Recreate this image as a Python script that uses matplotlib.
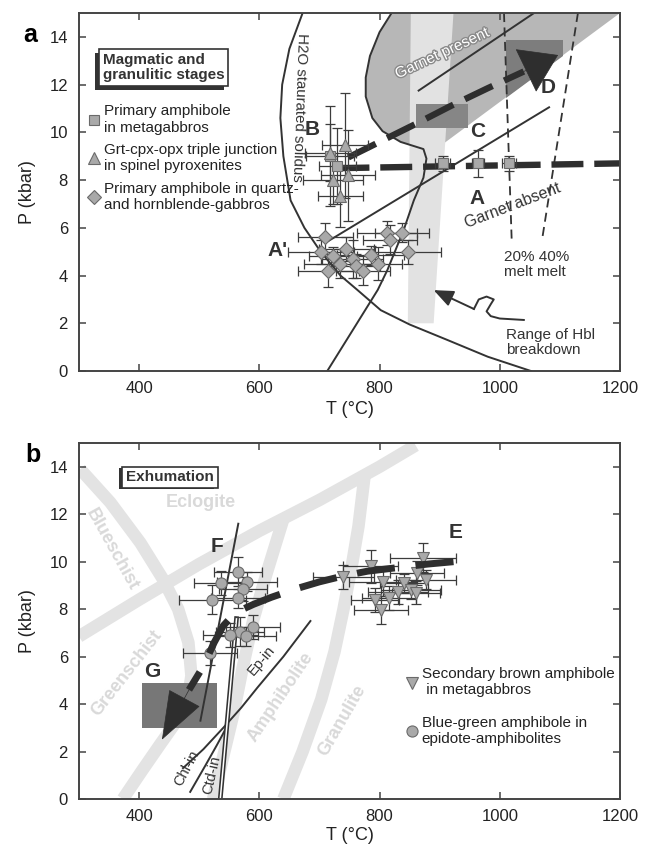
import numpy as np
import matplotlib
matplotlib.use("Agg")
import matplotlib.pyplot as plt
import matplotlib.patheffects as pe
from matplotlib.patches import Rectangle
from matplotlib.lines import Line2D

plt.rcParams['font.family'] = ['Liberation Sans', 'DejaVu Sans']

DARK = '#333333'
MFILL = '#a9a9a9'
MEDGE = '#6a6a6a'
EBAR = '#3c3c3c'
FACIES = '#d9d9d9'

# ---------------- panel a : magmatic and granulitic stages ----------------
sq_T = [718, 730, 905, 963, 1015]
sq_P = [9.0, 8.6, 8.7, 8.7, 8.7]
sq_Terr = [40, 30, 12, 10, 12]
sq_Perr = [2.1, 1.6, 0.3, 0.55, 0.3]

tri_T = [718, 743, 722, 747, 735]
tri_P = [9.15, 9.45, 8.0, 8.2, 7.35]
tri_Terr = [42, 38, 50, 45, 38]
tri_Perr = [1.2, 2.2, 1.0, 1.9, 1.3]

dia_T = [710, 702, 715, 723, 735, 745, 755, 760, 773, 785, 798, 813, 818, 838, 847]
dia_P = [5.6, 5.0, 4.2, 4.8, 4.5, 5.1, 4.7, 4.4, 4.2, 4.85, 4.5, 5.8, 5.5, 5.8, 5.0]
dia_Terr = [45, 55, 50, 40, 60, 45, 50, 40, 45, 55, 40, 50, 45, 45, 55]
dia_Perr = [0.6, 0.5, 0.7, 0.4, 0.6, 0.5, 0.8, 0.5, 0.6, 0.4, 0.7, 0.5, 0.6, 0.4, 0.5]

# H2O saturated solidus
sol_T = [672, 650, 638, 635, 640, 652, 675, 702, 735, 763, 802, 850, 913, 980, 1052]
sol_P = [15.0, 13.5, 12.0, 10.6, 9.0, 7.15, 6.0, 5.0, 4.0, 3.4, 2.55, 1.95, 1.3, 0.6, 0.0]
# garnet-in curve (S shaped)
gin_T = [713, 760, 797, 813, 840, 857, 873, 878, 873, 835, 805, 788, 777, 777, 784, 800, 820]
gin_P = [0.0, 1.9, 3.4, 4.23, 5.9, 7.15, 8.1, 8.9, 9.3, 9.6, 10.05, 10.6, 11.5, 12.3, 13.2, 14.2, 15.0]
# garnet-present field
grt_T = [873, 835, 805, 788, 777, 777, 784, 800, 820, 1200, 907]
grt_P = [9.3, 9.6, 10.05, 10.6, 11.5, 12.3, 13.2, 14.2, 15.0, 15.0, 9.54]
# range of Hbl breakdown
hbl_T = [852, 923, 890, 847]
hbl_P = [15.0, 15.0, 2.0, 2.0]
boxC_T = [860, 947, 947, 860]
boxC_P = [10.2, 10.2, 11.2, 11.2]
boxD_T = [1010, 1010, 1105, 1105]
boxD_P = [11.45, 13.85, 13.85, 13.2]
line1_T = [865, 1057]
line1_P = [11.75, 15.0]
line2_T = [715, 1082]
line2_P = [5.45, 11.05]
melt20_T = [1007, 1020]
melt20_P = [15.0, 5.35]
melt40_T = [1130, 1070]
melt40_P = [15.0, 5.45]
pathA_T = [730, 1200]
pathA_P = [8.5, 8.7]
pathB_T = [748, 800, 860, 918, 980, 1040]
pathB_P = [8.95, 9.6, 10.35, 11.1, 11.85, 12.55]
squig_T = [1040, 1000, 985, 978, 985, 990, 978, 965, 957]
squig_P = [2.14, 2.2, 2.3, 2.5, 2.8, 3.0, 3.12, 3.0, 2.6]

# ---------------- panel b : exhumation ----------------
circ_T = [565, 537, 580, 573, 522, 565, 590, 568, 577, 552, 518]
circ_P = [9.58, 9.1, 9.15, 8.85, 8.4, 8.45, 7.25, 7.05, 6.85, 6.9, 6.15]
circ_Terr = [40, 45, 50, 40, 55, 45, 45, 40, 50, 45, 45]
circ_Perr = [0.6, 0.5, 0.4, 0.5, 0.6, 0.4, 0.5, 0.6, 0.4, 0.5, 0.5]

dtri_T = [740, 785, 805, 793, 802, 830, 840, 863, 872, 877, 815, 852, 860]
dtri_P = [9.37, 9.8, 9.15, 8.4, 7.97, 8.73, 9.1, 9.53, 10.17, 9.24, 8.48, 8.82, 8.7]
dtri_Terr = [50, 45, 55, 40, 45, 50, 40, 45, 55, 50, 45, 50, 40]
dtri_Perr = [0.5, 0.7, 0.6, 0.5, 0.6, 0.5, 0.4, 0.5, 0.6, 0.4, 0.5, 0.4, 0.5]

# facies boundaries
ecl_T = [300, 400, 500, 600, 700, 800, 860]
ecl_P = [6.85, 8.4, 9.9, 11.3, 12.6, 14.0, 14.9]
gsb_T = [302, 352, 402, 440, 465, 482, 487, 480, 460, 435, 405, 373]
gsb_P = [13.9, 12.5, 10.8, 9.25, 8.0, 6.6, 5.2, 4.0, 3.2, 2.3, 1.2, 0.0]
amp_T = [640, 612, 590, 572, 557, 540, 523]
amp_P = [11.8, 9.5, 7.55, 5.5, 3.6, 1.8, 0.0]
gra_T = [775, 765, 755, 740, 725, 703, 672, 640]
gra_P = [13.6, 11.5, 10.0, 8.0, 6.2, 4.2, 2.0, 0.0]
epin_T = [473, 507, 540, 570, 597, 640, 685]
epin_P = [1.3, 2.1, 3.0, 3.85, 4.7, 6.0, 7.5]
chlin_T = [485, 510, 530, 545]
chlin_P = [0.3, 1.4, 2.3, 3.0]
ctdin_T = [562, 535]
ctdin_P = [7.6, 0.0]
react_T = [565, 502]
react_P = [11.6, 3.3]
pathE_T = [923, 880, 830, 780, 740, 700, 660, 620, 590, 560, 540, 525, 507, 483]
pathE_P = [10.0, 9.9, 9.75, 9.6, 9.4, 9.15, 8.85, 8.5, 8.2, 7.85, 7.3, 6.6, 5.6, 4.6]

fig = plt.figure(figsize=(6.48, 8.51), dpi=100)
axA = fig.add_axes([0.1219, 0.564, 0.8349, 0.4207])
axB = fig.add_axes([0.1219, 0.0611, 0.8349, 0.4183])


def frame(ax, xl):
    ax.set_xlim(300, 1200)
    ax.set_ylim(0, 15)
    ax.set_xticks([400, 600, 800, 1000, 1200])
    ax.set_yticks(range(0, 15, 2))
    ax.tick_params(direction='in', top=True, right=True, length=5, width=1.1,
                   color='#444444', labelsize=12, labelcolor='#222222')
    ax.tick_params(axis='x', pad=7)
    ax.tick_params(axis='y', pad=8)
    for s in ax.spines.values():
        s.set_color('#444444')
        s.set_linewidth(1.4)
        s.set_zorder(10)
    ax.set_xlabel('T (°C)', fontsize=13, color='#222222')
    ax.set_ylabel('P (kbar)', fontsize=13, color='#222222')
    ax.xaxis.set_label_coords(0.5, xl)
    ax.yaxis.set_label_coords(-0.08, 0.5)


def points(ax, T, P, Te, Pe, marker, ms):
    ax.errorbar(T, P, xerr=Te, yerr=Pe, fmt='none', ecolor=EBAR, elinewidth=0.9,
                capsize=3.5, capthick=0.9, zorder=5)
    ax.plot(T, P, ls='none', marker=marker, ms=ms, mfc=MFILL, mec=MEDGE, mew=0.8, zorder=6)


def boxed(ax, x, y, s, off):
    t = ax.text(x, y, s, fontsize=11, fontweight='bold', color=DARK, ha='left', va='center',
                linespacing=1.15, zorder=9,
                bbox=dict(boxstyle='square,pad=0.25', fc='white', ec=DARK, lw=1.2))
    t.get_bbox_patch().set_path_effects([pe.SimplePatchShadow(offset=off, shadow_rgbFace=DARK, alpha=1),
                                         pe.Normal()])


# ---------------- panel a ----------------
ax = axA
frame(ax, -0.085)
ax.fill(grt_T, grt_P, color='#b7b7b7', lw=0, zorder=1)
ax.fill(hbl_T, hbl_P, color='#e2e2e2', lw=0, zorder=1.5)
ax.fill(boxC_T, boxC_P, color='#868686', lw=0, zorder=2)
ax.fill(boxD_T, boxD_P, color='#7d7d7d', lw=0, zorder=2)
for T, P in [(sol_T, sol_P), (gin_T, gin_P), (line1_T, line1_P), (line2_T, line2_P)]:
    ax.plot(T, P, color=DARK, lw=1.4, zorder=3)
for T, P in [(melt20_T, melt20_P), (melt40_T, melt40_P)]:
    ax.plot(T, P, color=DARK, lw=1.3, dashes=(5, 3), zorder=3)

ax.plot(pathA_T, pathA_P, color='#2e2e2e', lw=4.6, dashes=(5, 1.7), zorder=4)
ax.plot(pathB_T, pathB_P, color='#2e2e2e', lw=4.6, dashes=(4.8, 2), zorder=4)
ax.annotate('', xy=(1097, 13.24), xytext=(pathB_T[-1], pathB_P[-1]), zorder=4,
            arrowprops=dict(arrowstyle='-|>,head_length=2.5,head_width=1.65', mutation_scale=10,
                            color='#2e2e2e', lw=0.5, shrinkA=0, shrinkB=0))

points(ax, sq_T, sq_P, sq_Terr, sq_Perr, 's', 7)
points(ax, tri_T, tri_P, tri_Terr, tri_Perr, '^', 8.5)
points(ax, dia_T, dia_P, dia_Terr, dia_Perr, 'D', 7.5)

# Hbl breakdown squiggle arrow
ax.plot(squig_T, squig_P, color=DARK, lw=1.4, zorder=3)
ax.annotate('', xy=(890, 3.39), xytext=(squig_T[-1], squig_P[-1]), zorder=3,
            arrowprops=dict(arrowstyle='-|>,head_length=1.2,head_width=0.5', mutation_scale=10,
                            color=DARK, lw=1.4, shrinkA=0, shrinkB=0))

for s, T, P in [('B', 688, 10.1), ('C', 963, 10.03), ('A', 963, 7.23), ('D', 1080, 11.9), ("A'", 630, 5.07)]:
    ax.text(T, P, s, fontsize=15, fontweight='bold', color=DARK, ha='center', va='center', zorder=8)

ax.text(667, 11.06, 'H2O staurated solidus', fontsize=10.8, color=DARK, rotation=-92,
        rotation_mode='anchor', ha='center', va='center', zorder=8)
ax.text(904, 13.3, 'Garnet present', fontsize=11, color='white', rotation=25,
        rotation_mode='anchor', ha='center', va='center', zorder=8,
        path_effects=[pe.withStroke(linewidth=2, foreground='#8a8a8a')])
ax.text(1021, 6.95, 'Garnet absent', fontsize=11.5, color=DARK, rotation=21,
        rotation_mode='anchor', ha='center', va='center', zorder=8)
ax.text(1007, 4.45, '20% 40%\nmelt melt', fontsize=11, color=DARK, ha='left', va='center',
        linespacing=1.1, zorder=8)
ax.text(1010, 1.2, 'Range of Hbl\nbreakdown', fontsize=11, color=DARK, ha='left', va='center',
        linespacing=1.15, zorder=8)
boxed(ax, 340, 12.72, 'Magmatic and\ngranulitic stages', (-3, -3))

hA = [Line2D([], [], ls='none', marker='s', ms=7, mfc=MFILL, mec=MEDGE, mew=0.8),
      Line2D([], [], ls='none', marker='^', ms=8.5, mfc=MFILL, mec=MEDGE, mew=0.8),
      Line2D([], [], ls='none', marker='D', ms=7.5, mfc=MFILL, mec=MEDGE, mew=0.8)]
lA = ['Primary amphibole\nin metagabbros',
      'Grt-cpx-opx triple junction\nin spinel pyroxenites',
      'Primary amphibole in quartz-\nand hornblende-gabbros']
leg = ax.legend(hA, lA, loc='upper left', bbox_to_anchor=(0.018, 0.745), frameon=False,
                fontsize=11, handlelength=0.7, handletextpad=0.3, labelspacing=0.55,
                borderpad=0, borderaxespad=0)
for t in leg.get_texts():
    t.set_color('#222222')
leg.set_zorder(9)

# ---------------- panel b ----------------
ax = axB
frame(ax, -0.078)
for T, P in [(ecl_T, ecl_P), (gsb_T, gsb_P), (amp_T, amp_P), (gra_T, gra_P)]:
    ax.plot(T, P, color='#e3e3e3', lw=9, solid_capstyle='butt', zorder=1)
for s, T, P, r in [('Eclogite', 502, 12.5, 0), ('Blueschist', 355, 10.5, -61),
                   ('Greenschist', 380, 5.3, 52), ('Amphibolite', 635, 4.3, 56),
                   ('Granulite', 738, 3.3, 60)]:
    ax.text(T, P, s, fontsize=13, fontweight='bold', color=FACIES, rotation=r,
            rotation_mode='anchor', ha='center', va='center', zorder=1.5)

ax.add_patch(Rectangle((405, 3.0), 125, 1.9, color='#777777', lw=0, zorder=2))
for T, P in [(epin_T, epin_P), (chlin_T, chlin_P), (react_T, react_P)]:
    ax.plot(T, P, color=DARK, lw=1.4, zorder=3)
ax.plot(ctdin_T, ctdin_P, color=DARK, lw=3.4, zorder=3)
ax.plot(ctdin_T, ctdin_P, color='white', lw=1.1, zorder=3)

ax.text(604, 5.85, 'Ep-in', fontsize=10.5, color=DARK, rotation=50, rotation_mode='anchor',
        ha='center', va='center', zorder=8)
ax.text(480, 1.3, 'Chl-in', fontsize=10.5, color=DARK, rotation=62, rotation_mode='anchor',
        ha='center', va='center', zorder=8)
ax.text(521, 1.0, 'Ctd-in', fontsize=10.5, color=DARK, rotation=77, rotation_mode='anchor',
        ha='center', va='center', zorder=8)

points(ax, circ_T, circ_P, circ_Terr, circ_Perr, 'o', 8)
points(ax, dtri_T, dtri_P, dtri_Terr, dtri_Perr, 'v', 8)

ax.plot(pathE_T, pathE_P, color='#2e2e2e', lw=5, dashes=(5.5, 3), zorder=7)
ax.annotate('', xy=(438, 2.5), xytext=(pathE_T[-1], pathE_P[-1]), zorder=7,
            arrowprops=dict(arrowstyle='-|>,head_length=3.3,head_width=1.2', mutation_scale=10,
                            color='#2e2e2e', lw=0.5, shrinkA=0, shrinkB=0))

for s, T, P in [('E', 927, 11.22), ('F', 530, 10.63), ('G', 422, 5.36)]:
    ax.text(T, P, s, fontsize=15, fontweight='bold', color=DARK, ha='center', va='center', zorder=8)

boxed(ax, 378, 13.55, 'Exhumation', (-2.5, -0.8))

hB = [Line2D([], [], ls='none', marker='v', ms=8, mfc=MFILL, mec=MEDGE, mew=0.8),
      Line2D([], [], ls='none', marker='o', ms=8, mfc=MFILL, mec=MEDGE, mew=0.8)]
lB = ['Secondary brown amphibole\n in metagabbros',
      'Blue-green amphibole in\nepidote-amphibolites']
leg = ax.legend(hB, lB, loc='upper left', bbox_to_anchor=(0.605, 0.37), frameon=False,
                fontsize=11, handlelength=0.7, handletextpad=0.3, labelspacing=1.2,
                borderpad=0, borderaxespad=0)
for t in leg.get_texts():
    t.set_color('#222222')

fig.text(0.046, 0.959, 'a', fontsize=18, fontweight='bold', ha='center', va='center')
fig.text(0.051, 0.465, 'b', fontsize=18, fontweight='bold', ha='center', va='center')

fig.savefig('out.png', dpi=100)
